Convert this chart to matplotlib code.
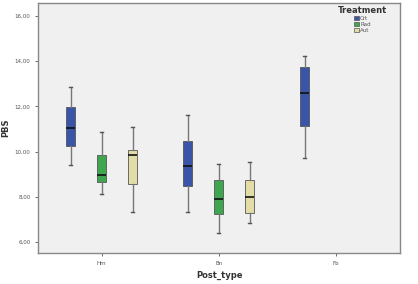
import matplotlib
matplotlib.use("Agg")
import matplotlib.pyplot as plt
from matplotlib.patches import Patch
from matplotlib.ticker import FuncFormatter

post_types = ["Hm", "Bn", "Fb"]
treatments = ["Crt", "Rad", "Aut"]
colors = {"Crt": "#3a55a8", "Rad": "#3fa650", "Aut": "#e2ddA6"}

# (whislo, q1, med, q3, whishi) per post type, None where missing
crt = [(9.39, 10.23, 11.05, 11.95, 12.87), (7.32, 8.50, 9.35, 10.45, 11.63), (9.72, 11.11, 12.61, 13.75, 14.24)]
rad = [(8.14, 8.64, 8.98, 9.83, 10.86), (6.41, 7.26, 7.89, 8.73, 9.45), None]
aut = [(7.34, 8.57, 9.86, 10.08, 11.08), (6.85, 7.30, 8.00, 8.76, 9.54), None]
series = {"Crt": crt, "Rad": rad, "Aut": aut}

offsets = {"Crt": -0.265, "Rad": 0.0, "Aut": 0.265}

fig = plt.figure(figsize=(4.18, 2.84), dpi=100)
ax = fig.add_axes([0.091, 0.109, 0.866, 0.880])
ax.set_facecolor("#f0f0f0")

for t in treatments:
    stats = []
    pos = []
    for i, v in enumerate(series[t]):
        if v is None:
            continue
        lo, q1, med, q3, hi = v
        stats.append(dict(whislo=lo, q1=q1, med=med, q3=q3, whishi=hi, fliers=[]))
        pos.append(i + offsets[t])
    ax.bxp(stats, positions=pos, widths=0.077, patch_artist=True, showfliers=False,
           boxprops=dict(facecolor=colors[t], edgecolor="#555555", linewidth=0.6),
           medianprops=dict(color="#111111", linewidth=1.2),
           whiskerprops=dict(color="#777777", linewidth=1.0),
           capprops=dict(color="#555555", linewidth=1.0),
           capwidths=0.03)

ax.set_xlim(-0.544, 2.55)
ax.set_ylim(5.52, 16.56)
ax.set_xticks(range(len(post_types)))
ax.set_xticklabels(post_types, fontsize=4, color="#555555")
ax.set_yticks([6, 8, 10, 12, 14, 16])
ax.yaxis.set_major_formatter(FuncFormatter(lambda v, p: f"{v:.2f}".replace(".", ",")))
ax.tick_params(axis="y", labelsize=4, labelcolor="#555555", length=2, width=0.6, colors="#555555")
ax.tick_params(axis="x", length=2, width=0.6, colors="#555555")
for s in ax.spines.values():
    s.set_color("#888888")
    s.set_linewidth(1.0)

ax.set_xlabel("Post_type", fontsize=6, fontweight="bold", color="#333333", labelpad=4)
ax.set_ylabel("PBS", fontsize=6, fontweight="bold", color="#333333", labelpad=3)

handles = [Patch(facecolor=colors[t], edgecolor="#555555", linewidth=0.5) for t in treatments]
leg = ax.legend(handles, treatments, title="Treatment", loc="upper right",
                bbox_to_anchor=(0.975, 1.005), alignment="center",
                fontsize=4, title_fontsize=6, frameon=False,
                handlelength=0.9, handleheight=0.9, handletextpad=0.2,
                labelspacing=0.15, borderaxespad=0.3)
leg.get_title().set_fontweight("bold")
leg.get_title().set_color("#333333")
for txt in leg.get_texts():
    txt.set_color("#555555")

fig.savefig("out.png", dpi=100, facecolor="white")
